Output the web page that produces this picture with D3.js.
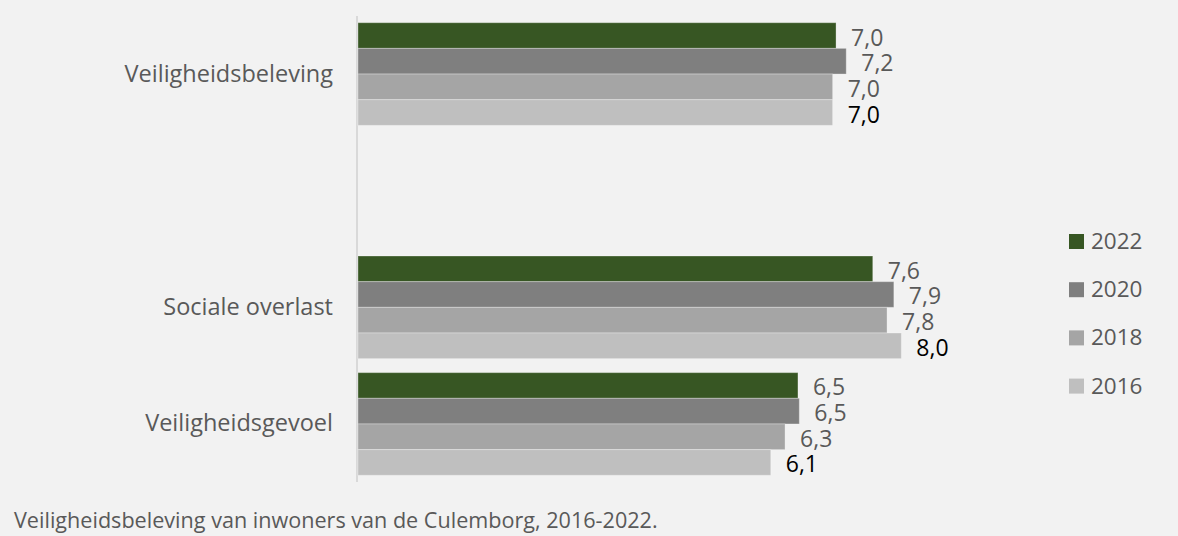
<!DOCTYPE html>
<html>
<head>
<meta charset="utf-8">
<script src="https://cdn.jsdelivr.net/npm/d3@7"></script>
<style>
  html, body { margin: 0; padding: 0; background: #f2f2f2; }
  svg { display: block; }
  text { font-family: "Open Sans", "Noto Sans", sans-serif; }
</style>
</head>
<body>
<svg id="chart" width="1178" height="536"></svg>
<script>
// ---- data ----
const categories = ["Veiligheidsbeleving", "", "Sociale overlast", "Veiligheidsgevoel"];
const years = ["2022", "2020", "2018", "2016"];
const values2022 = [7.03, null, 7.57, 6.47];
const values2020 = [7.18, null, 7.88, 6.49];
const values2018 = [6.98, null, 7.78, 6.28];
const values2016 = [6.98, null, 7.99, 6.07];
const colors = ["#375623", "#7f7f7f", "#a5a5a5", "#bfbfbf"];
const labelColors = ["#595959", "#595959", "#595959", "#000000"];
const caption = "Veiligheidsbeleving van inwoners van de Culemborg, 2016-2022.";

const seriesValues = [values2022, values2020, values2018, values2016];

const svg = d3.select("#chart");

const x = d3.scaleLinear().domain([0, 8]).range([358, 902]);
const y = d3.scaleBand().domain(categories).range([16, 482])
  .paddingInner(0.12).paddingOuter(0.0575);
const ySub = d3.scaleBand().domain(years).range([0, y.bandwidth()]).padding(0);

// axis line (vertical category axis)
svg.append("line")
  .attr("x1", 357).attr("x2", 357)
  .attr("y1", 16).attr("y2", 482)
  .attr("stroke", "#d9d9d9").attr("stroke-width", 2);

const fmt = v => d3.format(".1f")(v).replace(".", ",");

// bars
years.forEach((yr, si) => {
  const data = categories.map((c, ci) => ({ cat: c, v: seriesValues[si][ci] }))
    .filter(d => d.v != null);
  const g = svg.append("g");
  g.selectAll("rect").data(data).join("rect")
    .attr("x", x(0))
    .attr("y", d => y(d.cat) + ySub(yr))
    .attr("width", d => x(d.v) - x(0))
    .attr("height", ySub.bandwidth())
    .attr("fill", colors[si])
    .attr("stroke", "#ffffff").attr("stroke-opacity", 0.3).attr("stroke-width", 1);
  g.selectAll("text").data(data).join("text")
    .attr("x", d => x(d.v) + 15)
    .attr("y", d => y(d.cat) + ySub(yr) + ySub.bandwidth() / 2 + 10)
    .attr("fill", labelColors[si])
    .attr("font-size", 23)
    .text(d => fmt(d.v));
});

// category labels
svg.append("g").selectAll("text").data(categories.filter(c => c !== "")).join("text")
  .attr("x", 333)
  .attr("y", d => y(d) + y.bandwidth() / 2 + 7.5)
  .attr("text-anchor", "end")
  .attr("fill", "#595959")
  .attr("font-size", 23.5)
  .text(d => d);

// legend
const legend = svg.append("g");
years.forEach((yr, i) => {
  const cy = 241.5 + i * 48.2;
  legend.append("rect")
    .attr("x", 1069).attr("y", cy - 7.5)
    .attr("width", 15).attr("height", 15)
    .attr("fill", colors[i]);
  legend.append("text")
    .attr("x", 1091).attr("y", cy + 7.5)
    .attr("fill", "#595959")
    .attr("font-size", 22.5)
    .text(yr);
});

// caption
svg.append("text")
  .attr("x", 14).attr("y", 528)
  .attr("fill", "#595959")
  .attr("font-size", 21.6)
  .text(caption);
</script>
</body>
</html>
